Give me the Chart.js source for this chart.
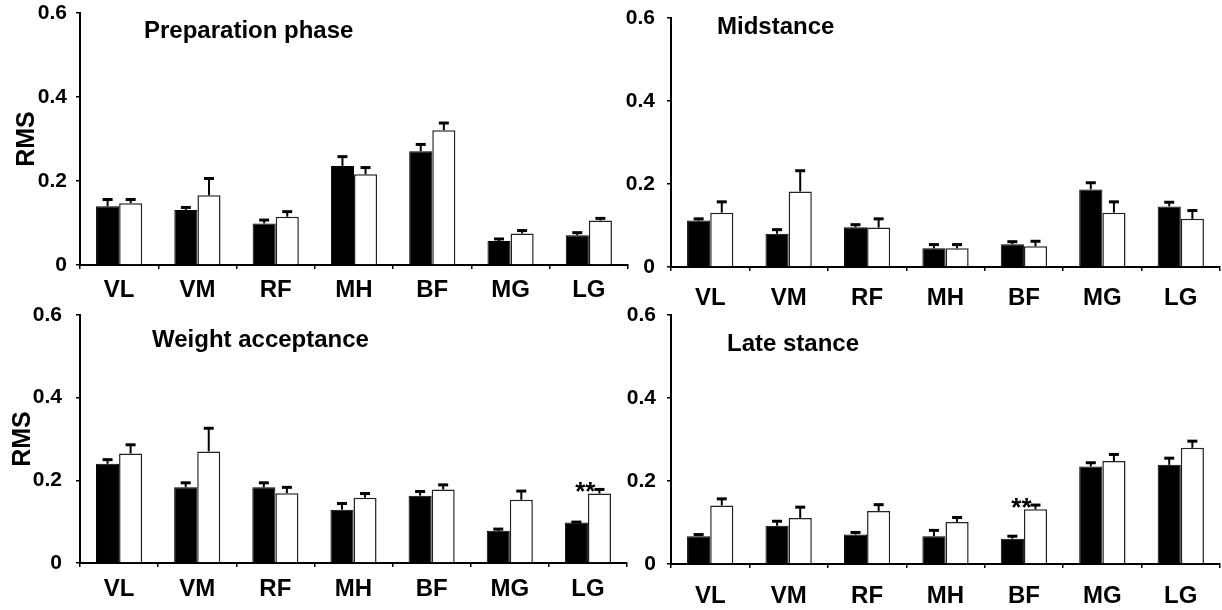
<!DOCTYPE html>
<html>
<head>
    <title>RMS per muscle and stance phase</title>
    <script src="https://cdn.jsdelivr.net/npm/chart.js"></script>
    <style>
        body { margin: 0; background: #fff; }
        #figure { position: relative; width: 1222px; height: 610px; overflow: hidden; }
        #figure canvas { position: absolute; }
    </style>
</head>
<body>
<div id="figure">
    <canvas id="prep" width="640" height="305" style="left:0;top:0"></canvas>
    <canvas id="mid" width="611" height="305" style="left:611px;top:0"></canvas>
    <canvas id="weight" width="640" height="305" style="left:0;top:305px"></canvas>
    <canvas id="late" width="611" height="305" style="left:611px;top:305px"></canvas>
</div>

<script>
    const muscles = ['VL', 'VM', 'RF', 'MH', 'BF', 'MG', 'LG'];
    const yTickLabels = ['0', '0.2', '0.4', '0.6'];

    // Preparation phase
    const prepBlack = [0.140, 0.131, 0.099, 0.236, 0.271, 0.057, 0.071];
    const prepBlackErr = [0.016, 0.006, 0.008, 0.022, 0.016, 0.005, 0.006];
    const prepWhite = [0.147, 0.166, 0.115, 0.216, 0.321, 0.075, 0.106];
    const prepWhiteErr = [0.009, 0.040, 0.012, 0.016, 0.017, 0.007, 0.005];

    // Midstance
    const midBlack = [0.112, 0.080, 0.096, 0.045, 0.055, 0.187, 0.146];
    const midBlackErr = [0.004, 0.010, 0.006, 0.009, 0.006, 0.016, 0.010];
    const midWhite = [0.131, 0.182, 0.095, 0.045, 0.050, 0.131, 0.116];
    const midWhiteErr = [0.026, 0.050, 0.021, 0.009, 0.012, 0.026, 0.020];

    // Weight acceptance
    const weightBlack = [0.240, 0.183, 0.183, 0.129, 0.163, 0.078, 0.098];
    const weightBlackErr = [0.010, 0.011, 0.011, 0.015, 0.010, 0.004, 0.001];
    const weightWhite = [0.265, 0.270, 0.169, 0.158, 0.178, 0.153, 0.168];
    const weightWhiteErr = [0.021, 0.056, 0.014, 0.010, 0.011, 0.021, 0.010];
    const weightSignificant = ['LG'];

    // Late stance
    const lateBlack = [0.067, 0.092, 0.071, 0.067, 0.061, 0.235, 0.239];
    const lateBlackErr = [0.004, 0.011, 0.005, 0.014, 0.006, 0.009, 0.016];
    const lateWhite = [0.141, 0.111, 0.128, 0.101, 0.132, 0.248, 0.280];
    const lateWhiteErr = [0.016, 0.026, 0.015, 0.011, 0.010, 0.016, 0.016];
    const lateSignificant = ['BF'];

    const FONT = '"Liberation Sans", Arial, sans-serif';
    Chart.defaults.font.family = FONT;
    Chart.defaults.font.weight = 'bold';
    Chart.defaults.color = '#000';

    // upward error bars with a cap, from mean to mean + error
    const errorBars = {
        id: 'errorBars',
        afterDatasetsDraw(chart) {
            const ctx = chart.ctx;
            const yScale = chart.scales.y;
            ctx.save();
            ctx.strokeStyle = '#000';
            chart.data.datasets.forEach((ds, i) => {
                chart.getDatasetMeta(i).data.forEach((bar, j) => {
                    const top = yScale.getPixelForValue(ds.data[j] + ds.errors[j]);
                    ctx.lineWidth = 2;
                    ctx.beginPath();
                    ctx.moveTo(bar.x, bar.y);
                    ctx.lineTo(bar.x, top);
                    ctx.stroke();
                    ctx.lineWidth = 3;
                    ctx.beginPath();
                    ctx.moveTo(bar.x - 5, top);
                    ctx.lineTo(bar.x + 5, top);
                    ctx.stroke();
                });
            });
            ctx.restore();
        }
    };

    // panel heading inside the plot area, and ** above significant pairs
    const panelText = {
        id: 'panelText',
        afterDraw(chart, args, opts) {
            const ctx = chart.ctx;
            const area = chart.chartArea;
            ctx.save();
            ctx.fillStyle = '#000';
            ctx.font = 'bold 24px ' + FONT;
            ctx.textAlign = 'left';
            ctx.textBaseline = 'middle';
            ctx.fillText(opts.title, area.left + opts.dx, area.top + opts.dy);

            const white = chart.data.datasets[1];
            const bars = chart.getDatasetMeta(1).data;
            ctx.font = 'bold 26px ' + FONT;
            ctx.textAlign = 'right';
            ctx.textBaseline = 'alphabetic';
            (opts.stars || []).forEach(name => {
                const j = chart.data.labels.indexOf(name);
                const top = chart.scales.y.getPixelForValue(white.data[j] + white.errors[j]);
                ctx.fillText('**', bars[j].x - 4, top + 11);
            });
            ctx.restore();
        }
    };

    function makePanel(id, title, black, blackErr, white, whiteErr, p) {
        const ctx = document.getElementById(id).getContext('2d');
        return new Chart(ctx, {
            type: 'bar',
            data: {
                labels: muscles,
                datasets: [{
                    label: 'Group 1',
                    data: black,
                    errors: blackErr,
                    backgroundColor: '#000',
                    borderColor: '#000',
                    borderWidth: 1
                }, {
                    label: 'Group 2',
                    data: white,
                    errors: whiteErr,
                    backgroundColor: '#fff',
                    borderColor: '#222',
                    borderWidth: 1.5
                }]
            },
            options: {
                responsive: false,
                animation: false,
                devicePixelRatio: 1,
                layout: { padding: { left: 0, top: p.top, right: p.right, bottom: 0 } },
                categoryPercentage: 0.59,
                barPercentage: 1.0,
                plugins: {
                    legend: { display: false },
                    tooltip: { enabled: false },
                    panelText: { title: title, dx: p.dx, dy: p.dy, stars: p.stars }
                },
                scales: {
                    x: {
                        afterFit: s => {
                            s.height = p.xHeight;
                            s.paddingLeft = 0;
                            s.paddingRight = 0;
                        },
                        border: { color: '#000', width: 2 },
                        grid: { drawOnChartArea: false, drawTicks: true, tickLength: 4, color: '#000', lineWidth: 1.5 },
                        ticks: { font: { size: 24, weight: 'bold' }, padding: p.xPad, color: '#000' }
                    },
                    y: {
                        min: 0,
                        max: 0.6,
                        // fixed axis width; tick padding must not push the plot top down
                        afterFit: s => {
                            s.width = p.yWidth;
                            s.paddingTop = 0;
                            s.paddingBottom = 0;
                        },
                        border: { color: '#000', width: 2 },
                        grid: { drawOnChartArea: false, drawTicks: true, tickLength: 4, color: '#000', lineWidth: 1.5 },
                        ticks: {
                            stepSize: 0.2,
                            padding: p.yPad,
                            font: { size: 21, weight: 'bold', lineHeight: 1 },
                            color: '#000',
                            callback: (v, i) => yTickLabels[i]
                        },
                        title: {
                            display: p.showTitle,
                            text: 'RMS',
                            font: { size: 25, weight: 'bold' },
                            color: '#000',
                            padding: { top: p.titlePad, bottom: 0 }
                        }
                    }
                }
            },
            plugins: [errorBars, panelText]
        });
    }

    makePanel('prep', 'Preparation phase', prepBlack, prepBlackErr, prepWhite, prepWhiteErr,
        { top: 13, right: 12, xHeight: 40, yWidth: 80, xPad: 7, yPad: 9, dx: 64, dy: 18, showTitle: true, titlePad: 12 });
    makePanel('mid', 'Midstance', midBlack, midBlackErr, midWhite, midWhiteErr,
        { top: 18, right: 2, xHeight: 38, yWidth: 60, xPad: 13, yPad: 12, dx: 46, dy: 9, showTitle: false, titlePad: 0 });
    makePanel('weight', 'Weight acceptance', weightBlack, weightBlackErr, weightWhite, weightWhiteErr,
        { top: 10, right: 13, xHeight: 47, yWidth: 80, xPad: 8, yPad: 14, dx: 72, dy: 25, stars: weightSignificant, showTitle: true, titlePad: 8 });
    makePanel('late', 'Late stance', lateBlack, lateBlackErr, lateWhite, lateWhiteErr,
        { top: 10, right: 2, xHeight: 46, yWidth: 60, xPad: 14, yPad: 11, dx: 56, dy: 29, stars: lateSignificant, showTitle: false, titlePad: 0 });
</script>
</body>
</html>
